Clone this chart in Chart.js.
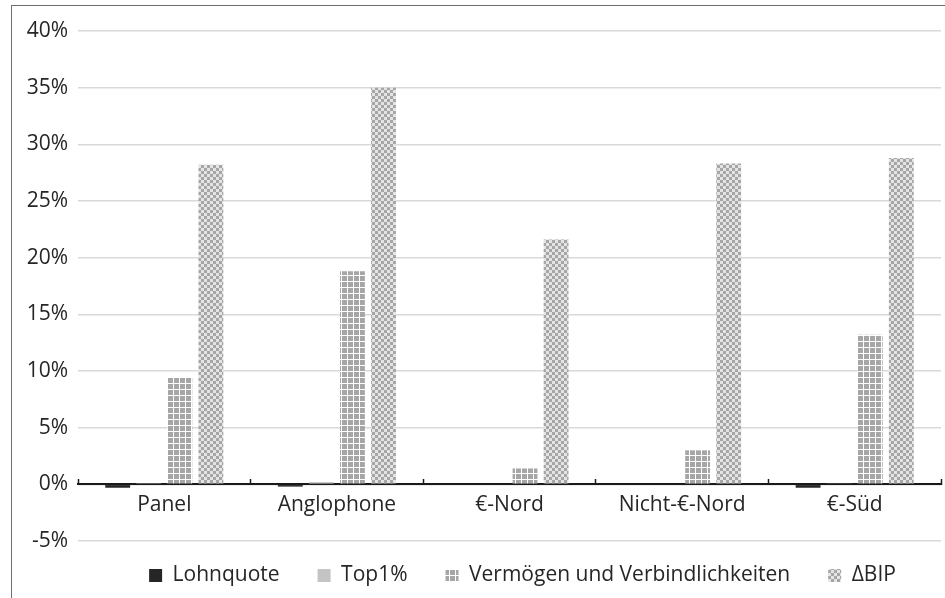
<!DOCTYPE html>
<html lang="de">
<head>
    <meta charset="UTF-8">
    <title>Beiträge nach Ländergruppen</title>
    <script src="https://cdn.jsdelivr.net/npm/chart.js"></script>
    <style>
        body { margin: 0; background: #fff; overflow: hidden; }
        #frame {
            position: absolute; left: 11px; top: 5px;
            width: 940px; height: 600px;
            border-left: 1.5px solid #6e6e6e; border-top: 1.5px solid #6e6e6e;
        }
        #wrap { position: absolute; left: 0; top: 0; width: 934px; height: 593px; }
    </style>
</head>
<body>
    <div id="frame"><div id="wrap"><canvas id="chart"></canvas></div></div>

    <script>
        const categories = ['Panel', 'Anglophone', '€-Nord', 'Nicht-€-Nord', '€-Süd'];
        const lohnquote = [-0.3, -0.2, 0, 0, -0.3];
        const top1 = [0.1, 0.2, 0, 0, 0.05];
        const vermoegen = [9.4, 18.8, 1.4, 3.0, 13.2];
        const deltaBip = [28.2, 35.0, 21.6, 28.3, 28.8];
        const seriesNames = ['Lohnquote', 'Top1%', 'Vermögen und Verbindlichkeiten', '\u0394BIP'];

        function gridPattern() {
            const c = document.createElement('canvas');
            c.width = 6; c.height = 6;
            const g = c.getContext('2d');
            g.fillStyle = '#a6a6a6';
            g.fillRect(0, 0, 6, 6);
            g.fillStyle = '#ffffff';
            g.fillRect(5, 0, 1, 6);
            g.fillRect(0, 5, 6, 1);
            return g.createPattern(c, 'repeat');
        }

        function checkerPattern() {
            const c = document.createElement('canvas');
            c.width = 6; c.height = 6;
            const g = c.getContext('2d');
            g.fillStyle = '#e4e4e4';
            g.fillRect(0, 0, 6, 6);
            g.fillStyle = '#a6a6a6';
            g.fillRect(0, 0, 3, 3);
            g.fillRect(3, 3, 3, 3);
            return g.createPattern(c, 'repeat');
        }

        // nudge the legend to where Excel put it
        const legendShift = {
            id: 'legendShift',
            afterLayout(chart) {
                const lg = chart.legend;
                lg.left += 46; lg.right += 46;
                lg.top -= 14; lg.bottom -= 14;
            }
        };

        const ctx = document.getElementById('chart').getContext('2d');
        new Chart(ctx, {
            type: 'bar',
            data: {
                labels: categories,
                datasets: [
                    { label: seriesNames[0], data: lohnquote, backgroundColor: '#262626' },
                    { label: seriesNames[1], data: top1, backgroundColor: '#c4c4c4' },
                    { label: seriesNames[2], data: vermoegen, backgroundColor: gridPattern() },
                    { label: seriesNames[3], data: deltaBip, backgroundColor: checkerPattern() }
                ]
            },
            options: {
                responsive: true,
                maintainAspectRatio: false,
                animation: false,
                layout: { padding: { left: 0, right: 5, top: 25, bottom: -11 } },
                datasets: {
                    bar: { barPercentage: 0.8, categoryPercentage: 0.72 }
                },
                plugins: {
                    tooltip: { enabled: false },
                    legend: {
                        position: 'bottom',
                        labels: {
                            font: { family: 'Open Sans', size: 21 },
                            color: '#262626',
                            boxWidth: 13,
                            boxHeight: 13,
                            padding: 38
                        }
                    }
                },
                scales: {
                    x: {
                        position: { y: 0 },
                        grid: { drawOnChartArea: false, tickLength: -6, tickColor: '#1a1a1a', tickWidth: 1.5 },
                        border: { color: '#1a1a1a', width: 2 },
                        ticks: { font: { family: 'Open Sans', size: 21 }, color: '#262626', padding: 14 }
                    },
                    y: {
                        min: -5,
                        max: 40,
                        afterFit: s => { s.width = 66; },
                        grid: { color: '#d9d9d9', lineWidth: 1.5, drawTicks: false },
                        border: { display: false },
                        ticks: {
                            stepSize: 5,
                            padding: 10,
                            font: { family: 'Open Sans', size: 21 },
                            color: '#262626',
                            callback: v => v + '%'
                        }
                    }
                }
            },
            plugins: [legendShift]
        });
    </script>
</body>
</html>
